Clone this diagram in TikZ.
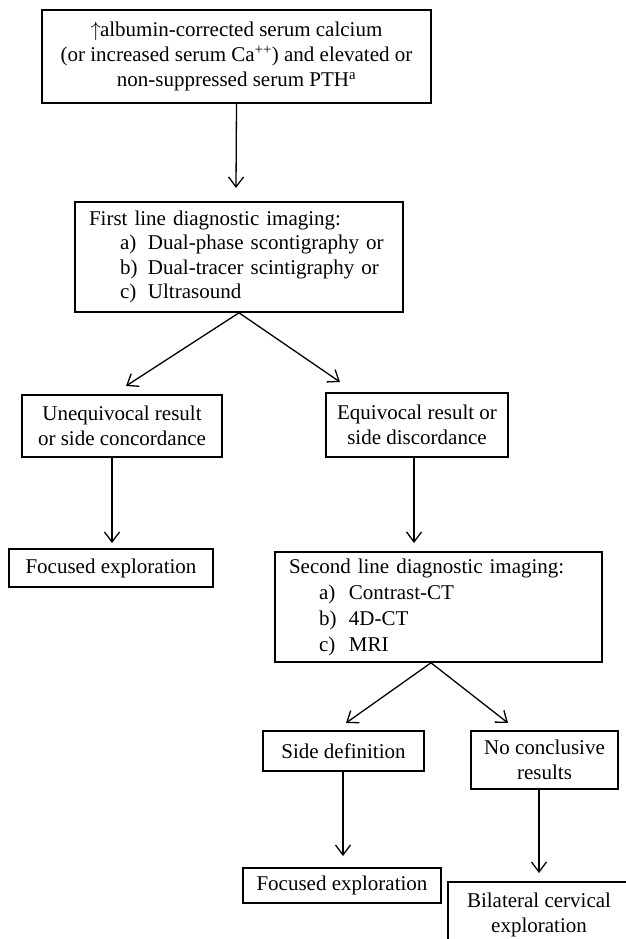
\documentclass[tikz,border=0pt]{standalone}
\usepackage{fontspec}
\setmainfont{Liberation Serif}
\usetikzlibrary{arrows.meta}
\begin{document}
\begin{tikzpicture}[x=1pt,y=-1pt,
  box/.style={draw, line width=1.6pt, inner xsep=4pt, inner ysep=0pt, align=center,
              font=\fontsize{21}{25}\selectfont},
  listbox/.style={draw, line width=1.6pt, inner xsep=14pt, inner ysep=0pt, align=left},
  arr/.style={line width=1.3pt, -{Straight Barb[length=10pt,width=15pt]}}]
\clip (0,0) rectangle (626,939);
\fill[white] (0,0) rectangle (626,939);

% nodes
\node[box, minimum width=389pt, minimum height=93pt] (b1) at (236.5,56.5)
  {$\uparrow$\kern-1pt albumin-corrected serum calcium\\(or increased serum Ca\textsuperscript{++}) and elevated or\\non-suppressed serum PTH\textsuperscript{a}};

\node[listbox, text width=300pt, minimum height=110pt, font=\fontsize{21}{24.4}\selectfont] (b2) at (239,257)
  {First line diagnostic imaging:\\
   \hspace*{31pt}\makebox[28pt][l]{a)}Dual-phase scontigraphy or\\
   \hspace*{31pt}\makebox[28pt][l]{b)}Dual-tracer scintigraphy or\\
   \hspace*{31pt}\makebox[28pt][l]{c)}Ultrasound};

\node[box, minimum width=200pt, minimum height=62pt] (b3) at (122,426)
  {Unequivocal result\\or side concordance};
\node[box, minimum width=182pt, minimum height=64pt] (b4) at (417,425)
  {Equivocal result or\\side discordance};

\node[box, minimum width=204pt, minimum height=38pt] (b5f) at (111,568)
  {Focused exploration};

\node[listbox, text width=299pt, minimum height=110pt, font=\fontsize{21}{26}\selectfont] (b5) at (438.5,607)
  {Second line diagnostic imaging:\\
   \hspace*{30pt}\makebox[30pt][l]{a)}Contrast-CT\\
   \hspace*{30pt}\makebox[30pt][l]{b)}4D-CT\\
   \hspace*{30pt}\makebox[30pt][l]{c)}MRI};

\node[box, minimum width=161pt, minimum height=40pt] (b6) at (343.5,751)
  {Side definition};
\node[box, minimum width=147pt, minimum height=58pt] (b7) at (544.5,760)
  {No conclusive\\results};

\node[box, minimum width=198pt, minimum height=35pt] (b8) at (342,885.5)
  {Focused exploration};
\node[box, minimum width=182pt, minimum height=66pt] (b9) at (539,915)
  {Bilateral cervical\\exploration};

% arrow tips
\coordinate (t1) at (236,188);
\coordinate (t2L) at (126,386);
\coordinate (t2R) at (340,382);
\coordinate (t3) at (112,543);
\coordinate (t4) at (414,543);
\coordinate (t5L) at (346,723);
\coordinate (t5R) at (508,723);
\coordinate (t6) at (343,856);
\coordinate (t7) at (539,873);

% connectors
\draw[arr] (b1.south) -- (t1);
\draw[arr] (b2.south) -- (t2L);
\draw[arr] (b2.south) -- (t2R);
\draw[arr] (b3.south -| t3) -- (t3);
\draw[arr] (b4.south -| t4) -- (t4);
\draw[arr] ([xshift=-7.5pt]b5.south) -- (t5L);
\draw[arr] ([xshift=-7.5pt]b5.south) -- (t5R);
\draw[arr] (b6.south -| t6) -- (t6);
\draw[arr] (b7.south -| t7) -- (t7);
\end{tikzpicture}
\end{document}
